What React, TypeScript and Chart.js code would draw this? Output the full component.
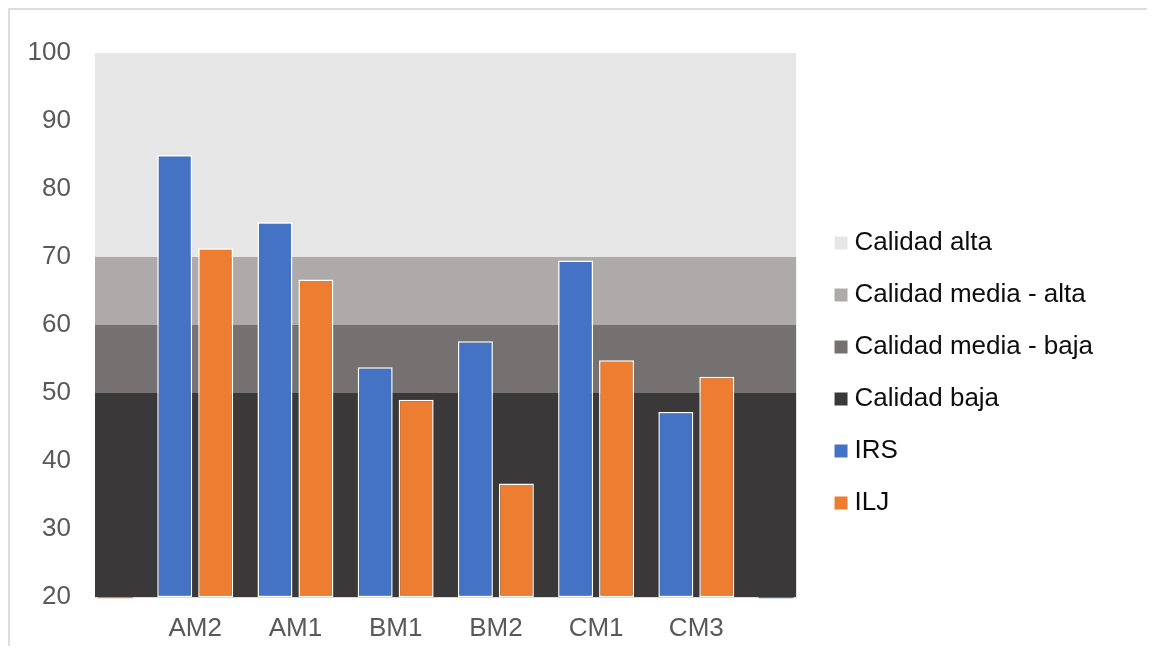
import React, { useEffect, useRef } from "react";
import { Chart, registerables } from "chart.js";

Chart.register(...registerables);

const categories = ["", "AM2", "AM1", "BM1", "BM2", "CM1", "CM3", ""];
const irsValues = [null, 85.0, 75.1, 53.8, 57.6, 69.5, 47.2, 19.8];
const iljValues = [19.8, 71.3, 66.7, 49.0, 36.7, 54.8, 52.4, null];
const bandAlta = [100, 100, 100, 100, 100, 100, 100, 100];
const bandMediaAlta = [70, 70, 70, 70, 70, 70, 70, 70];
const bandMediaBaja = [60, 60, 60, 60, 60, 60, 60, 60];
const bandBaja = [50, 50, 50, 50, 50, 50, 50, 50];
const yTicks = [20, 30, 40, 50, 60, 70, 80, 90, 100];
const axisMin = 20;

const FONT = "'Liberation Sans', Arial, sans-serif";

export default function App() {
  const ref = useRef<HTMLCanvasElement | null>(null);

  useEffect(() => {
    document.body.style.overflow = "hidden";
    const canvas = ref.current;
    if (!canvas) return;
    Chart.defaults.font.family = FONT;

    const band = (label: string, data: number[], color: string, fill: any) => ({
      type: "line" as const,
      label,
      data,
      backgroundColor: color,
      borderColor: "rgba(0,0,0,0)",
      borderWidth: 0,
      pointRadius: 0,
      pointHoverRadius: 0,
      tension: 0,
      fill,
      order: 1,
    });

    const barBorder = (ctx: any) => (ctx.raw !== null && ctx.raw < axisMin ? 0 : 1.5);

    const bar = (label: string, data: (number | null)[], color: string) => ({
      type: "bar" as const,
      label,
      data: data as any,
      backgroundColor: color,
      borderColor: "#ffffff",
      borderWidth: barBorder as any,
      borderSkipped: false,
      base: axisMin,
      categoryPercentage: 0.8175,
      barPercentage: 0.854,
      clip: false as any,
      order: 0,
    });

    const chart = new Chart(canvas, {
      type: "bar",
      data: {
        labels: categories,
        datasets: [
          band("Calidad alta", bandAlta, "#e7e6e6", 1),
          band("Calidad media - alta", bandMediaAlta, "#aeaaaa", 2),
          band("Calidad media - baja", bandMediaBaja, "#767171", 3),
          band("Calidad baja", bandBaja, "#3a3838", "start"),
          bar("IRS", irsValues, "#4472c4"),
          bar("ILJ", iljValues, "#ed7d31"),
        ] as any,
      },
      options: {
        animation: false,
        responsive: false,
        layout: { padding: { top: 45, bottom: 0, left: 0, right: 52 } },
        scales: {
          x: {
            offset: false,
            grid: { display: false, drawTicks: false },
            border: { display: true, color: "#d9d9d9", width: 1 },
            ticks: {
              autoSkip: false,
              maxRotation: 0,
              minRotation: 0,
              padding: 16,
              color: "#595959",
              font: { size: 26, family: FONT },
            },
            afterFit: (s: any) => {
              s.height = 49;
            },
          },
          y: {
            min: axisMin,
            max: 100,
            afterBuildTicks: (s: any) => {
              s.ticks = yTicks.map((v) => ({ value: v }));
            },
            grid: { display: false, drawTicks: false },
            border: { display: false },
            ticks: {
              padding: 24,
              color: "#595959",
              font: { size: 26, family: FONT },
            },
            afterFit: (s: any) => {
              s.width = 87;
            },
          },
          yR: {
            type: "linear",
            position: "right",
            display: true,
            grid: { display: false, drawTicks: false },
            border: { display: false },
            ticks: { display: false },
            afterFit: (s: any) => {
              s.width = 18;
            },
          },
        } as any,
        plugins: {
          filler: { drawTime: "beforeDatasetsDraw" } as any,
          tooltip: { enabled: false },
          legend: {
            position: "right",
            align: "center",
            maxWidth: 290,
            title: {
              display: true,
              text: "",
              font: { size: 10 },
              padding: { top: 35, bottom: 0 },
            },
            labels: {
              usePointStyle: true,
              pointStyle: "rect",
              boxWidth: 1,
              boxHeight: 13,
              padding: 26,
              color: "#0d0d0d",
              font: { size: 26, family: FONT },
              sort: (a: any, b: any) => a.datasetIndex - b.datasetIndex,
              generateLabels: (c: any) => {
                const items = (Chart.defaults.plugins.legend.labels as any).generateLabels(c);
                return items.map((it: any) => {
                  const ds = c.data.datasets[it.datasetIndex];
                  return {
                    ...it,
                    fillStyle: ds.backgroundColor,
                    strokeStyle: ds.backgroundColor,
                    lineWidth: 0,
                    pointStyle: "rect",
                  };
                });
              },
            },
          } as any,
        },
      },
    });
    return () => chart.destroy();
  }, []);

  return (
    <div style={{ position: "relative", width: 1147, height: 638 }}>
      <div
        style={{
          position: "absolute",
          left: 0,
          top: 0,
          right: -8,
          bottom: -16,
          borderTop: "2px solid #dddddd",
          borderLeft: "2px solid #dddddd",
          boxSizing: "border-box",
        }}
      />
      <canvas
        ref={ref}
        width={1147}
        height={638}
        style={{ position: "absolute", left: 0, top: 0, width: 1147, height: 638 }}
      />
    </div>
  );
}
